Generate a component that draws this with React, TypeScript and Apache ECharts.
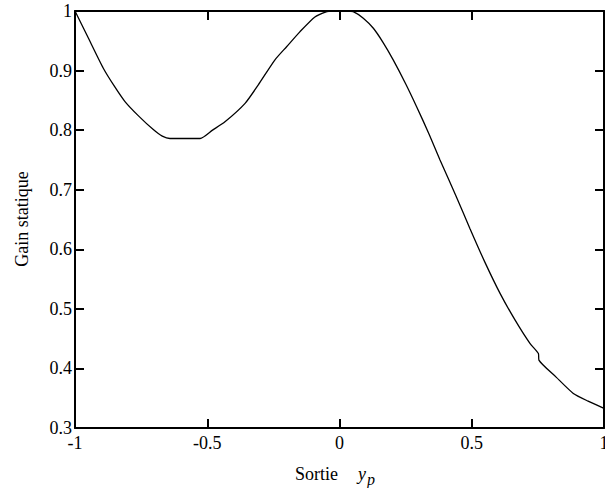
import React, { useEffect, useRef } from "react";
import * as echarts from "echarts";

const sortieValues = [
  -1.0, -0.95, -0.893, -0.85, -0.811, -0.76, -0.704, -0.67, -0.641, -0.527, -0.48, -0.433,
  -0.357, -0.307, -0.244, -0.2, -0.15, -0.093, -0.048, -0.03, 0.03, 0.052, 0.09, 0.128,
  0.165, 0.203, 0.25, 0.292, 0.34, 0.38, 0.44, 0.493, 0.55, 0.607, 0.664, 0.72, 0.752,
  0.754, 0.82, 0.884, 0.94, 1.0,
];
const gainValues = [
  1.0, 0.955, 0.904, 0.873, 0.848, 0.824, 0.801, 0.79, 0.786, 0.786, 0.8, 0.814,
  0.845, 0.876, 0.918, 0.94, 0.965, 0.99, 0.999, 1.0, 1.0, 0.999, 0.988, 0.971,
  0.947, 0.918, 0.878, 0.839, 0.792, 0.75, 0.69, 0.635, 0.578, 0.526, 0.481, 0.442, 0.425,
  0.414, 0.385, 0.358, 0.345, 0.333,
];
const xTickLabels = ["-1", "-0.5", "0", "0.5", "1"];
const yTickLabels = ["0.3", "0.4", "0.5", "0.6", "0.7", "0.8", "0.9", "1"];
const yAxisTitle = "Gain statique";
const xAxisTitle = "Sortie";
const xAxisSymbol = "y";
const xAxisSubscript = "p";

const FONT = "Liberation Serif";

export default function App() {
  const ref = useRef<HTMLDivElement>(null);
  useEffect(() => {
    if (!ref.current) return;
    const chart = echarts.init(ref.current, undefined, { renderer: "svg" });
    const axisLine = () => ({ show: true, onZero: false, lineStyle: { color: "#000", width: 2 } });
    const tick = () => ({
      show: true,
      inside: true,
      length: 9,
      lineStyle: { color: "#000", width: 2 },
    });
    const xFmt = (v: number) => {
      const i = Math.round((v + 1) / 0.5);
      return xTickLabels[i] ?? "";
    };
    const yFmt = (v: number) => {
      const i = Math.round((v - 0.3) / 0.1);
      return yTickLabels[i] ?? "";
    };
    chart.setOption({
      animation: false,
      grid: { left: 75, top: 11, width: 529, height: 417, outerBoundsMode: "none" },
      xAxis: [
        {
          type: "value",
          min: -1,
          max: 1,
          interval: 0.5,
          axisLine: axisLine(),
          axisTick: tick(),
          splitLine: { show: false },
          axisLabel: { color: "#000", fontFamily: FONT, fontSize: 18, margin: 6, formatter: xFmt },
        },
        {
          type: "value",
          position: "top",
          min: -1,
          max: 1,
          interval: 0.5,
          axisLine: axisLine(),
          axisTick: tick(),
          splitLine: { show: false },
          axisLabel: { show: false },
        },
      ],
      yAxis: [
        {
          type: "value",
          min: 0.3,
          max: 1,
          interval: 0.1,
          axisLine: axisLine(),
          axisTick: tick(),
          splitLine: { show: false },
          axisLabel: { color: "#000", fontFamily: FONT, fontSize: 18, margin: 3, formatter: yFmt },
        },
        {
          type: "value",
          position: "right",
          min: 0.3,
          max: 1,
          interval: 0.1,
          axisLine: axisLine(),
          axisTick: tick(),
          splitLine: { show: false },
          axisLabel: { show: false },
        },
      ],
      graphic: [
        {
          type: "text",
          x: 22,
          y: 219,
          rotation: Math.PI / 2,
          style: {
            text: yAxisTitle,
            fill: "#000",
            font: `18px ${FONT}`,
            align: "center",
            verticalAlign: "middle",
          },
        },
        {
          type: "text",
          x: 295,
          y: 474,
          style: { text: xAxisTitle, fill: "#000", font: `18px ${FONT}`, align: "left", verticalAlign: "middle" },
        },
        {
          type: "text",
          x: 358,
          y: 474,
          style: { text: xAxisSymbol, fill: "#000", font: `italic 18px ${FONT}`, align: "left", verticalAlign: "middle" },
        },
        {
          type: "text",
          x: 367,
          y: 479,
          style: { text: xAxisSubscript, fill: "#000", font: `italic 16px ${FONT}`, align: "left", verticalAlign: "middle" },
        },
      ],
      series: [
        {
          type: "line",
          xAxisIndex: 0,
          yAxisIndex: 0,
          data: sortieValues.map((x, i) => [x, gainValues[i]]),
          showSymbol: false,
          smooth: 0.2,
          lineStyle: { color: "#000", width: 1.3 },
        },
      ],
    });
    return () => chart.dispose();
  }, []);
  return (
    <div
      ref={ref}
      style={{ position: "fixed", left: 0, top: 0, width: 605, height: 488, background: "#fff" }}
    />
  );
}
